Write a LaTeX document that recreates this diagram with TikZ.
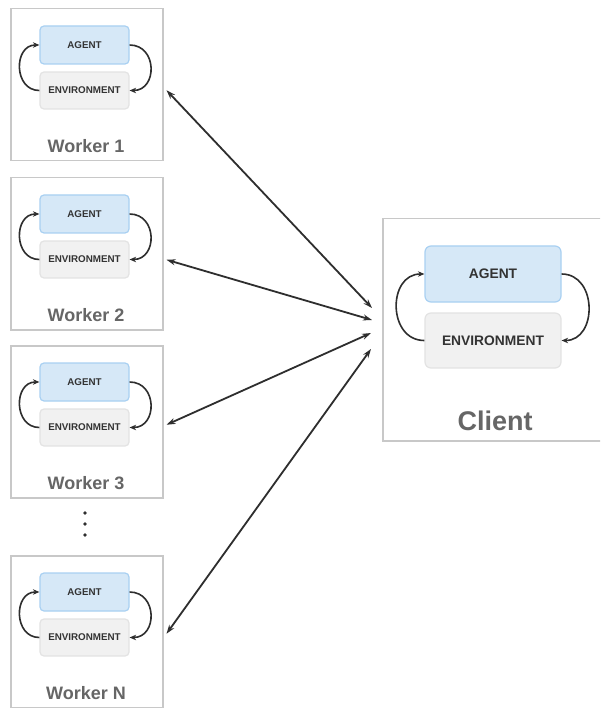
\documentclass[tikz,border=0pt]{standalone}
\usepackage{fontspec}
\setmainfont{Liberation Sans}
\usetikzlibrary{arrows.meta,calc}
\definecolor{outerline}{HTML}{C8C8C8}
\definecolor{agentfill}{HTML}{D6E8F7}
\definecolor{agentline}{HTML}{A9D0F2}
\definecolor{envfill}{HTML}{F1F1F1}
\definecolor{envline}{HTML}{E3E3E3}
\definecolor{labelgray}{HTML}{666666}
\definecolor{inktext}{HTML}{333333}
\definecolor{arrowink}{HTML}{2E2E2E}
\tikzset{
  outerbox/.style={draw=outerline, line width=1.5pt, fill=white, inner sep=0pt},
  agentbox/.style={draw=agentline, line width=1.2pt, fill=agentfill, rounded corners=4pt, inner sep=0pt, text=inktext, font=\bfseries},
  envbox/.style={draw=envline, line width=1.2pt, fill=envfill, rounded corners=4pt, inner sep=0pt, text=inktext, font=\bfseries},
  smalltxt/.style={font=\fontsize{9.8}{11}\selectfont\bfseries},
  bigtxt/.style={font=\fontsize{13.8}{15}\selectfont\bfseries},
  looparrow/.style={draw=arrowink, line width=1.6pt, -{Stealth[length=6.5pt,width=5.5pt]}},
  linkarrow/.style={draw=arrowink, line width=1.8pt, {Stealth[length=9pt,width=6pt]}-{Stealth[length=9pt,width=6pt]}},
  workerlabel/.style={text=labelgray, font=\fontsize{18}{20}\selectfont\bfseries, inner sep=0pt},
}
\begin{document}
\begin{tikzpicture}[x=1pt,y=-1pt]
\clip (0,0) rectangle (600,708);
\fill[white] (0,0) rectangle (600,708);
% workers
\foreach \id/\top/\lab in {1/8/Worker 1, 2/177/Worker 2, 3/345/Worker 3, N/555/Worker N}{
  \node[outerbox, minimum width=152pt, minimum height=152pt, anchor=north west] (w\id) at (10,\top) {};
  \node[agentbox, smalltxt, minimum width=89pt, minimum height=38pt] (wa\id) at (84.5,\top+37) {AGENT};
  \node[envbox, smalltxt, minimum width=89pt, minimum height=37pt] (we\id) at (84.5,\top+82.5) {ENVIRONMENT};
  \node[workerlabel] (wl\id) at (86,\top+138) {\lab};
  \draw[looparrow] (we\id.west) .. controls +(-26,0) and +(-26,0) .. (wa\id.west);
  \draw[looparrow] (wa\id.east) .. controls +(28,0) and +(28,0) .. (we\id.east);
}
% dots
\foreach \yy/\nm in {513/d1,524/d2,535/d3}{
  \fill[arrowink] (85,\yy) circle (1.8pt) coordinate (\nm);
}
% client
\node[outerbox, minimum width=230pt, minimum height=222pt, anchor=north west] (client) at (382,218) {};
\node[agentbox, bigtxt, rounded corners=6pt, minimum width=136pt, minimum height=56pt] (ca) at (493,274) {AGENT};
\node[envbox, bigtxt, rounded corners=6pt, minimum width=136pt, minimum height=55pt] (ce) at (493,340.5) {ENVIRONMENT};
\node[workerlabel, font=\fontsize{27}{30}\selectfont\bfseries] (cl) at (495,421) {Client};
\draw[looparrow] (ce.west) .. controls +(-37,0) and +(-37,0) .. (ca.west);
\draw[looparrow] (ca.east) .. controls +(36,0) and +(36,0) .. (ce.east);
% link endpoints
\coordinate (c1) at (372,308);
\coordinate (c2) at (372,320);
\coordinate (c3) at (371,333);
\coordinate (c4) at (371,349);
\draw[linkarrow] ([xshift=3pt,yshift=-5.5pt]w1.east) -- (c1);
\draw[linkarrow] ([xshift=3pt,yshift=-6pt]w2.east) -- (c2);
\draw[linkarrow] ([xshift=3pt,yshift=-3pt]w3.east) -- (c3);
\draw[linkarrow] ([xshift=3pt,yshift=-2pt]wN.east) -- (c4);
\end{tikzpicture}
\end{document}
